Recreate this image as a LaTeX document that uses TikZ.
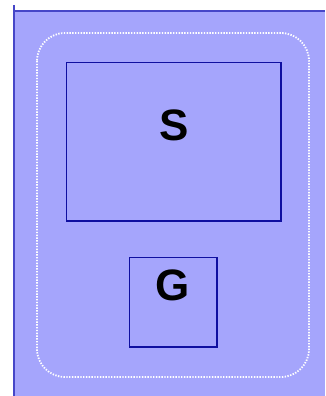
\documentclass[tikz,border=0pt]{standalone}
\usepackage{fontspec}
\setmainfont{Liberation Sans}
\definecolor{bgfill}{RGB}{165,165,252}
\definecolor{edgeblue}{RGB}{70,70,200}
\definecolor{boxblue}{RGB}{15,15,160}
\begin{document}
\begin{tikzpicture}[x=1pt,y=-1pt,
  boxline/.style={draw=boxblue,line width=1.8pt,inner sep=0pt,outer sep=0pt},
  bigtext/.style={font=\bfseries\fontsize{44}{44}\selectfont,text=black,inner sep=0pt},
  dotline/.style={draw=white,line width=1.8pt,dash pattern=on 1.4pt off 1.4pt,rounded corners=28pt}]
\useasboundingbox (0,0) rectangle (325,396);
\fill[white] (0,0) rectangle (325,396);
\fill[bgfill] (14,11) rectangle (325,396);
\draw[edgeblue,line width=2pt] (14,5) -- (14,396);
\draw[edgeblue,line width=2.2pt] (14,11) -- (325,11);
\draw[dotline] (37,33) rectangle (309,377);
\node[boxline,minimum width=214.5pt,minimum height=158.5pt] (sbox) at (173.75,141.75) {};
\node[boxline,minimum width=87.5pt,minimum height=89.5pt] (gbox) at (173.25,302.25) {};
\node[bigtext,anchor=center] (s) at (174.5,125) {S};
\node[bigtext,anchor=center] (g) at (172.5,285) {G};
\end{tikzpicture}
\end{document}
